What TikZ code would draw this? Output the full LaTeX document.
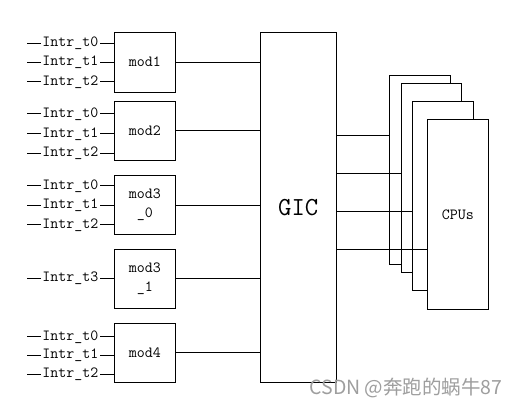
\documentclass[tikz,border=0pt]{standalone}
\usepackage{fontspec}
\newfontfamily\cjk{Noto Sans CJK SC}
\begin{document}
\begin{tikzpicture}[x=1pt,y=-1pt,line width=1pt,
  box/.style={draw,fill=white,inner sep=0pt,align=center,font=\fontsize{15.5}{19}\selectfont\ttfamily},
  lbl/.style={fill=white,inner xsep=1.5pt,inner ysep=0pt,anchor=base,yshift=-3.4pt,font=\fontsize{15.5}{19}\selectfont\ttfamily},
  wm/.style={inner sep=0pt,anchor=west,text=black!38,font=\cjk\fontsize{19.5}{21}\selectfont}]
\useasboundingbox (0,0) rectangle (519,406);
\fill[white] (0,0) rectangle (519,406);
% modules
\node[box,minimum width=61pt,minimum height=59.7pt] (m1)  at (144.8,62.2)  {mod1};
\node[box,minimum width=61pt,minimum height=59.4pt] (m2)  at (144.8,131)   {mod2};
\node[box,minimum width=61pt,minimum height=59pt]   (m3a) at (144.8,205.2) {mod3\\\_0};
\node[box,minimum width=61pt,minimum height=58.7pt] (m3b) at (144.8,278.7) {mod3\\\_1};
\node[box,minimum width=61pt,minimum height=59pt]   (m4)  at (144.8,352.8) {mod4};
% GIC
\node[box,minimum width=76pt,minimum height=349.7pt,font=\fontsize{26}{30}\selectfont\ttfamily] (gic) at (298.3,207.2) {GIC};
% CPUs (back to front)
\node[box,minimum width=61pt,minimum height=189pt] (cpu1) at (419.8,169.8) {};
\node[box,minimum width=60pt,minimum height=189pt] (cpu2) at (431.3,177.8) {};
\node[box,minimum width=61pt,minimum height=188.7pt] (cpu3) at (442.8,195.7) {};
\node[box,minimum width=61pt,minimum height=189pt] (cpu4) at (457.8,214.5) {CPUs};
% inputs
\foreach \m/\y/\t in {m1/43.3/0,m1/62.3/1,m1/81.7/2,m2/114/0,m2/133.7/1,m2/153.3/2,m3a/186/0,m3a/205.3/1,m3a/224.7/2,m3b/278.3/3,m4/336.7/0,m4/355.3/1,m4/374/2}{
  \coordinate (i\m\t) at (27,\y);
  \draw (i\m\t) -- node[lbl]{Intr\_t\t} (i\m\t -| \m.west);
}
% module outputs to GIC
\foreach \m in {m1,m2,m3a,m3b,m4}{
  \draw (\m.east) -- (\m.east -| gic.west);
}
% GIC to CPUs
\draw (gic.east |- 0,135.3) -- (cpu1.west |- 0,135.3);
\draw (gic.east |- 0,173.3) -- (cpu2.west |- 0,173.3);
\draw (gic.east |- 0,211.3) -- (cpu3.west |- 0,211.3);
\draw (gic.east |- 0,249.3) -- (cpu4.west |- 0,249.3);
% watermark
\node[wm] (wmark) at (309,388) {CSDN @奔跑的蜗牛87};
\end{tikzpicture}
\end{document}
